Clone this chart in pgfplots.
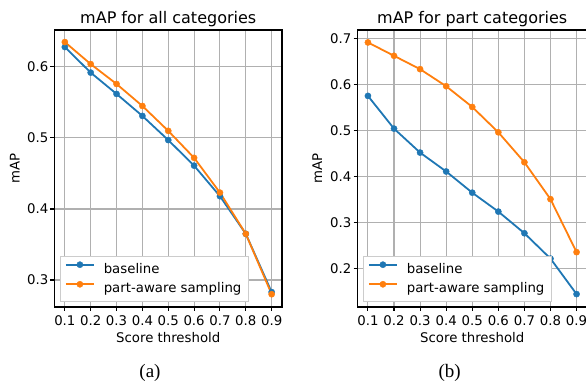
\documentclass[border=0pt]{standalone}
\usepackage{pgfplots}
\pgfplotsset{compat=1.18}
\usepackage{fontspec}
\setmainfont{DejaVu Sans}
\newfontfamily\capfont{Liberation Serif}
\definecolor{mblue}{HTML}{1F77B4}
\definecolor{morange}{HTML}{FF7F0E}
\definecolor{mgrid}{HTML}{B0B0B0}
\newcommand{\fs}{\fontsize{13.3}{16}\selectfont}
\pgfplotsset{
  mystyle/.style={
    scale only axis, anchor=south west,
    height=277pt,
    xmin=0.06, xmax=0.94,
    xtick={0.1,0.2,0.3,0.4,0.5,0.6,0.7,0.8,0.9},
    xticklabels={0.1,0.2,0.3,0.4,0.5,0.6,0.7,0.8,0.9},
    xtick pos=bottom, ytick pos=left,
    grid=major,
    major grid style={mgrid, line width=1.05pt},
    axis line style={black, line width=1.05pt},
    tick align=outside, major tick length=4pt,
    tick style={black, line width=1.05pt},
    tick label style={font=\fs, inner sep=0pt},
    xticklabel style={anchor=north, yshift=-4pt},
    yticklabel style={anchor=east, xshift=-2pt},
    xlabel={Score threshold}, ylabel={mAP},
    every axis x label/.style={at={(axis description cs:0.5,-0.128)}, anchor=base, font=\fs},
    every axis y label/.style={at={(axis description cs:-0.1538,0.5)}, rotate=90, anchor=base, font=\fs},
    every axis title/.style={at={(axis description cs:0.5,1.0217)}, anchor=base, font=\fontsize{16}{19}\selectfont},
    legend cell align=left,
    legend style={at={(axis description cs:0,0)}, anchor=south west, xshift=5.3pt, yshift=5.3pt,
      draw=black!20, fill=white, font=\fs,
      inner xsep=5pt, inner ysep=5.2pt, row sep=4pt,
      /tikz/every odd column/.append style={column sep=7pt}},
    legend image code/.code={\draw[mark repeat=2, mark phase=2] plot coordinates {(0pt,0pt) (14pt,0pt) (28pt,0pt)};},
    legend image post style={yshift=4.2pt},
    every axis plot/.append style={line width=1.8pt, mark=*, mark size=3.1pt, mark options={solid, line width=0.4pt}},
  }
}
\begin{document}
\begin{tikzpicture}
\useasboundingbox (0,0) rectangle (586pt,387pt);
\begin{axis}[mystyle, at={(54.5pt,80pt)}, width=227.5pt,
  ymin=0.262, ymax=0.652, ytick={0.3,0.4,0.5,0.6}, yticklabels={0.3,0.4,0.5,0.6},
  title={mAP for all categories}]
\addplot[color=mblue] coordinates {(0.1,0.628)(0.2,0.592)(0.3,0.562)(0.4,0.531)(0.5,0.497)(0.6,0.461)(0.7,0.418)(0.8,0.365)(0.9,0.283)};
\addlegendentry{baseline}
\addplot[color=morange] coordinates {(0.1,0.635)(0.2,0.604)(0.3,0.576)(0.4,0.545)(0.5,0.510)(0.6,0.472)(0.7,0.423)(0.8,0.365)(0.9,0.280)};
\addlegendentry{part-aware sampling}
\end{axis}
\begin{axis}[mystyle, at={(357.5pt,80pt)}, width=229.5pt,
  ymin=0.117, ymax=0.718, ytick={0.2,0.3,0.4,0.5,0.6,0.7}, yticklabels={0.2,0.3,0.4,0.5,0.6,0.7},
  title={mAP for part categories}]
\addplot[color=mblue] coordinates {(0.1,0.575)(0.2,0.504)(0.3,0.452)(0.4,0.411)(0.5,0.365)(0.6,0.324)(0.7,0.277)(0.8,0.222)(0.9,0.145)};
\addlegendentry{baseline}
\addplot[color=morange] coordinates {(0.1,0.691)(0.2,0.662)(0.3,0.633)(0.4,0.596)(0.5,0.551)(0.6,0.496)(0.7,0.431)(0.8,0.351)(0.9,0.236)};
\addlegendentry{part-aware sampling}
\end{axis}
\node[font=\capfont\fontsize{19}{22}\selectfont] at (150pt,14pt) {(a)};
\node[font=\capfont\fontsize{19}{22}\selectfont] at (449.7pt,14pt) {(b)};
\end{tikzpicture}
\end{document}
